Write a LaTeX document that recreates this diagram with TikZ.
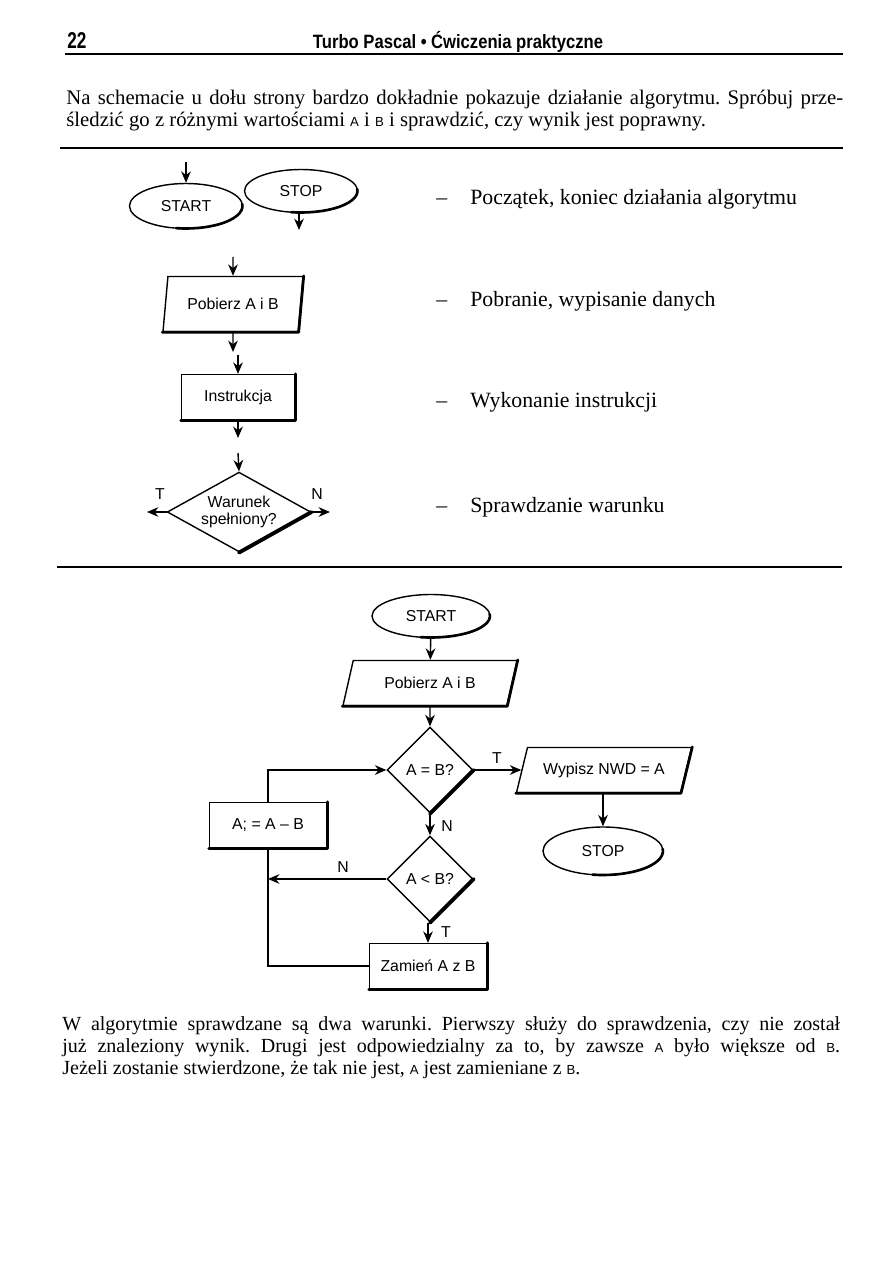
\documentclass[tikz,border=0pt]{standalone}
\usepackage{fontspec}
\usepackage{graphicx}
\setmainfont{Liberation Serif}
\setsansfont{Liberation Sans}
\usetikzlibrary{shapes.geometric,arrows.meta}
\newcommand{\varname}[1]{{\sffamily\fontsize{7.5}{8}\selectfont #1}}
\frenchspacing
\begin{document}
\begin{tikzpicture}[x=0.02cm,y=-0.02cm,
    box/.style={draw,line width=0.8pt,font=\sffamily\fontsize{9}{10}\selectfont,inner sep=1pt},
    term/.style={box,ellipse,minimum width=2.3cm,minimum height=0.88cm},
    io/.style={box,trapezium,trapezium stretches body,minimum height=0.9cm},
    proc/.style={box,rectangle,minimum width=2.34cm,minimum height=0.9cm},
    cond/.style={box,diamond,minimum width=1.72cm,minimum height=1.72cm},
    flow/.style={line width=0.8pt,-{Stealth[length=6.5pt,width=5.5pt]}},
    wire/.style={line width=0.8pt},
    heavy/.style={line width=1.5pt,line cap=round,line join=round},
    tag/.style={font=\sffamily\fontsize{9}{10}\selectfont,inner sep=0pt},
    rule/.style={line width=1.3pt},
    textline/.style={anchor=base west,inner sep=0pt,font=\fontsize{11.8}{13}\selectfont},
    legend/.style={anchor=base west,inner sep=0pt,font=\fontsize{12.4}{14}\selectfont}]
    \fill[white] (0,0) rectangle (893,1263);
    \useasboundingbox (0,0) rectangle (893,1263);

    \node[font=\sffamily\bfseries\fontsize{13}{15}\selectfont] (page) at (77,41) {\scalebox{0.75}[1]{22}};
    \node[font=\sffamily\bfseries\fontsize{11}{13}\selectfont] (title) at (458,42) {\scalebox{0.86}[1]{Turbo Pascal \textbullet\ Ćwiczenia praktyczne}};
    \draw[rule] (65,54) -- (843,54);

    \node[textline] (intro1) at (66,105) {\makebox[15.54cm][s]{Na schemacie u dołu strony bardzo dokładnie pokazuje działanie algorytmu. Spróbuj prze-}};
    \node[textline] (intro2) at (66,127) {śledzić go z różnymi wartościami \varname{A} i \varname{B} i sprawdzić, czy wynik jest poprawny.};
    \draw[rule] (60,148) -- (843,148);

    \node[term,minimum width=2.26cm,minimum height=0.9cm] (start1) at (186,206) {START};
    \node[term,minimum width=2.26cm,minimum height=0.86cm] (stop1) at (301,191) {STOP};
    \node[io,trapezium left angle=72,trapezium right angle=108,minimum width=2.8cm,minimum height=1.1cm] (get1) at (233,304) {Pobierz A i B};
    \node[proc,minimum width=2.26cm] (instr) at (238,397) {Instrukcja};
    \node[cond,align=center,minimum width=2.76cm,minimum height=1.54cm,aspect=1.8] (cond1) at (239,512) {Warunek\\spełniony?};

    \coordinate (startin) at (186,162);
    \coordinate (stopout) at (299,230);
    \coordinate (getin) at (233,257);
    \coordinate (getout) at (233,352);
    \coordinate (instrin) at (238,355);
    \coordinate (instrout) at (238,438);
    \coordinate (condin) at (238,453);
    \coordinate (condT) at (147,512);
    \coordinate (condN) at (330,512);

    \draw[flow] (startin) -- (start1.north);
    \draw[flow] (stop1.south -| stopout) -- (stopout);
    \draw[flow] (getin) -- (get1.north);
    \draw[flow] (get1.south) -- (getout);
    \draw[flow] (instrin) -- (instr.north);
    \draw[flow] (instr.south) -- (instrout);
    \draw[flow] (condin) -- (cond1.north);
    \draw[flow] (cond1.west) -- (condT);
    \draw[flow] (cond1.east) -- (condN);
    \node[tag] (t1) at (160,494) {T};
    \node[tag] (n1) at (317,494) {N};

    \node[legend] (dash1) at (436,205) {--};
    \node[legend] (leg1) at (470,205) {Początek, koniec działania algorytmu};
    \node[legend] (dash2) at (436,307) {--};
    \node[legend] (leg2) at (470,307) {Pobranie, wypisanie danych};
    \node[legend] (dash3) at (436,407) {--};
    \node[legend] (leg3) at (470,407) {Wykonanie instrukcji};
    \node[legend] (dash4) at (436,512) {--};
    \node[legend] (leg4) at (470,512) {Sprawdzanie warunku};

    \draw[rule] (57,567) -- (842,567);

    \node[term,minimum width=2.36cm,minimum height=0.86cm] (start) at (431,616) {START};
    \node[io,trapezium left angle=56,trapezium right angle=124,minimum width=3.48cm] (get) at (430,683) {Pobierz A i B};
    \node[cond] (aeqb) at (430,770) {A = B?};
    \node[io,trapezium left angle=59,trapezium right angle=121,minimum width=3.5cm] (print) at (604,770) {Wypisz NWD = A};
    \node[term,minimum width=2.4cm,minimum height=0.96cm] (stop) at (603,851) {STOP};
    \node[cond] (altb) at (430,879) {A < B?};
    \node[proc] (swap) at (428,966) {Zamień A z B};
    \node[proc] (sub) at (268,825) {A; = A -- B};

    \draw[flow] (start) -- (get);
    \draw[flow] (get) -- (aeqb);
    \draw[flow] (aeqb.east) -- (print.west |- aeqb.east);
    \draw[flow] (print.south -| stop.north) -- (stop.north);
    \draw[flow] (aeqb.south) -- (altb.north);
    \draw[flow] (altb.west) -- (altb.west -| sub.south);
    \draw[flow] (altb.south -| swap.north) -- (swap.north);
    \draw[wire] (swap.west) -| (sub.south);
    \draw[flow] (sub.north) |- (aeqb.west);
    \node[tag] (t2) at (497,758) {T};
    \node[tag] (n2) at (447,826) {N};
    \node[tag] (n3) at (343,867) {N};
    \node[tag] (t3) at (446,932) {T};

    \foreach \n/\rx/\ry in {start1/1.13/0.45,stop1/1.13/0.43,start/1.18/0.43,stop/1.2/0.48}
        \draw[heavy] (\n.center) ++(5:\rx cm and \ry cm) arc[start angle=5,end angle=-100,x radius=\rx cm,y radius=\ry cm];
    \foreach \n in {get1,get,print}
        \draw[heavy] (\n.top right corner) -- (\n.bottom right corner) -- (\n.bottom left corner);
    \foreach \n in {instr,swap,sub}
        \draw[heavy] (\n.north east) -- (\n.south east) -- (\n.south west);
    \foreach \n in {cond1,aeqb,altb}
        \draw[heavy,line width=2.2pt] (\n.east) -- (\n.south);

    \node[textline,font=\fontsize{11.4}{13}\selectfont] (outro1) at (62,1030) {\makebox[15.56cm][s]{W algorytmie sprawdzane są dwa warunki. Pierwszy służy do sprawdzenia, czy nie został}};
    \node[textline,font=\fontsize{11.4}{13}\selectfont] (outro2) at (62,1052) {\makebox[15.56cm][s]{już znaleziony wynik. Drugi jest odpowiedzialny za to, by zawsze \varname{A} było większe od \varname{B}.}};
    \node[textline,font=\fontsize{11.4}{13}\selectfont] (outro3) at (62,1074) {Jeżeli zostanie stwierdzone, że tak nie jest, \varname{A} jest zamieniane z \varname{B}.};
\end{tikzpicture}
\end{document}
